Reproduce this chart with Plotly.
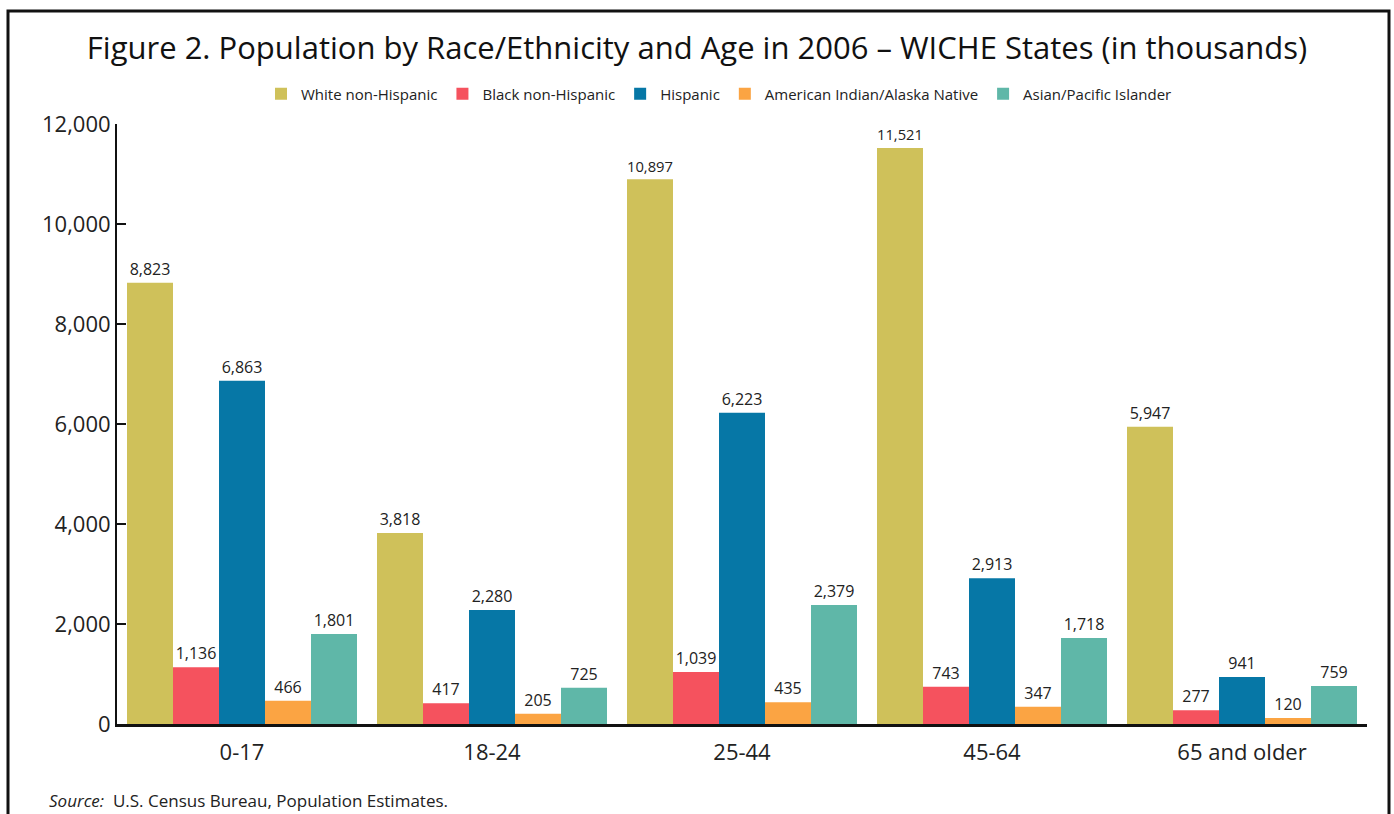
import plotly.graph_objects as go

categories = ["0-17", "18-24", "25-44", "45-64", "65 and older"]
series_names = ["White non-Hispanic", "Black non-Hispanic", "Hispanic",
                "American Indian/Alaska Native", "Asian/Pacific Islander"]
white = [8823, 3818, 10897, 11521, 5947]
black = [1136, 417, 1039, 743, 277]
hispanic = [6863, 2280, 6223, 2913, 941]
amind = [466, 205, 435, 347, 120]
asian = [1801, 725, 2379, 1718, 759]
colors = ["#CFC15A", "#F5525E", "#0677A6", "#FBA443", "#5FB7A8"]
y_ticks = [0, 2000, 4000, 6000, 8000, 10000, 12000]

FONT = "Open Sans"
W, H = 1394, 814
fig = go.Figure()
for name, vals, col in zip(series_names, [white, black, hispanic, amind, asian], colors):
    fig.add_trace(go.Bar(
        x=categories, y=vals, name=name, marker=dict(color=col, line=dict(width=0)),
        text=[f"{v:,}" for v in vals], textposition="outside",
        textfont=dict(family=FONT, size=16, color="#222"), cliponaxis=False,
    ))

fig.update_layout(
    width=W, height=H,
    margin=dict(l=117, r=W - 1367, t=124, b=H - 724),
    paper_bgcolor="white", plot_bgcolor="white",
    barmode="group", bargap=0.08, bargroupgap=0,
    font=dict(family=FONT, color="#111"),
    title=dict(text="Figure 2. Population by Race/Ethnicity and Age in 2006 – WICHE States (in thousands)",
               x=697 / W, xref="container", xanchor="center", y=1 - 48 / H, yanchor="middle",
               font=dict(family=FONT, size=31, color="#111")),
    legend=dict(orientation="h", x=(719 - 117) / 1250, xanchor="center", y=(724 - 94) / 600, yanchor="middle",
                font=dict(family=FONT, size=15, color="#222"), itemwidth=30,
                traceorder="normal", bgcolor="rgba(0,0,0,0)"),
    showlegend=True,
)
fig.update_xaxes(showline=True, linecolor="#111", linewidth=3, ticks="", showgrid=False,
                 tickfont=dict(family=FONT, size=22, color="#222"), ticklabelstandoff=7)
fig.update_yaxes(range=[0, 12000], tickvals=y_ticks, tickformat=",d", showline=True, linecolor="#111",
                 linewidth=2, ticks="inside", ticklen=9, tickwidth=2, tickcolor="#111", showgrid=False,
                 zeroline=False, tickfont=dict(family=FONT, size=22, color="#222"))

fig.add_annotation(text="<i>Source:</i>  U.S. Census Bureau, Population Estimates.",
                   xref="paper", yref="paper", x=(47 - 117) / 1250, y=(724 - 800) / 600,
                   xanchor="left", yanchor="middle", showarrow=False,
                   font=dict(family=FONT, size=17, color="#222"))

fig.add_shape(type="rect", xref="paper", yref="paper",
              x0=(8 - 117) / 1250, x1=(1389 - 117) / 1250,
              y0=(724 - 860) / 600, y1=(724 - 11) / 600,
              line=dict(color="#111", width=3), fillcolor="rgba(0,0,0,0)", layer="above")

fig.write_html("out.html", config={"displayModeBar": False},
               post_script="document.body.style.margin='0';document.body.style.overflow='hidden';")
